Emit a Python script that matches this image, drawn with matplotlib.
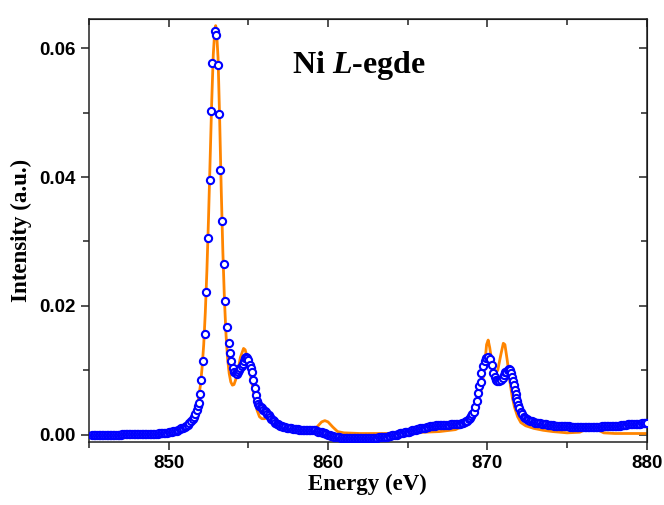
import matplotlib.pyplot as plt
from matplotlib.ticker import MultipleLocator

# experiment (blue circles)
exp_energy = [
    845.2, 845.3, 845.4, 845.5, 845.6, 845.7, 845.8, 845.9, 846.0, 846.1,
    846.2, 846.3, 846.4, 846.5, 846.6, 846.7, 846.8, 846.9, 847.0, 847.1,
    847.2, 847.3, 847.4, 847.5, 847.6, 847.7, 847.8, 847.9, 848.0, 848.1,
    848.2, 848.3, 848.4, 848.5, 848.6, 848.7, 848.8, 848.9, 849.0, 849.1,
    849.2, 849.3, 849.4, 849.5, 849.6, 849.7, 849.8, 849.9, 850.0, 850.1,
    850.2, 850.3, 850.4, 850.5, 850.6, 850.7, 850.8, 850.9, 851.0,
    851.1, 851.2, 851.3, 851.4, 851.5, 851.6, 851.68, 851.76, 851.83, 851.9,
    851.97, 852.05, 852.14, 852.28, 852.36, 852.47, 852.58, 852.66, 852.74, 852.89,
    852.99, 853.12, 853.16, 853.24, 853.37, 853.47, 853.55, 853.64, 853.77, 853.85,
    853.91, 854.02, 854.12, 854.2, 854.27, 854.34, 854.41, 854.5, 854.58, 854.66,
    854.73, 854.8, 854.87, 854.94, 855.0, 855.1, 855.17, 855.23, 855.31, 855.4,
    855.48, 855.56, 855.63, 855.69, 855.77, 855.85, 855.94, 856.02, 856.1, 856.18,
    856.27, 856.36, 856.45, 856.54, 856.62, 856.7, 856.78, 856.86, 856.94,
    857.0, 857.1, 857.2, 857.3, 857.4, 857.5, 857.6, 857.7, 857.8, 857.9,
    858.0, 858.1, 858.2, 858.3, 858.4, 858.5, 858.6, 858.7, 858.8, 858.9,
    859.0, 859.1, 859.2, 859.3, 859.4, 859.5, 859.6, 859.7, 859.8, 859.9,
    860.0, 860.1, 860.2, 860.3, 860.4, 860.5, 860.6, 860.7, 860.8, 860.9,
    861.0, 861.1, 861.2, 861.3, 861.4, 861.5, 861.6, 861.7, 861.8, 861.9,
    862.0, 862.1, 862.2, 862.3, 862.4, 862.5, 862.6, 862.7, 862.8, 862.9,
    863.0, 863.1, 863.2, 863.3, 863.4, 863.5, 863.6, 863.7, 863.8, 863.9,
    864.0, 864.1, 864.2, 864.3, 864.4, 864.5, 864.6, 864.7, 864.8, 864.9,
    865.0, 865.1, 865.2, 865.3, 865.4, 865.5, 865.6, 865.7, 865.8, 865.9,
    866.0, 866.1, 866.2, 866.3, 866.4, 866.5, 866.6, 866.7, 866.8, 866.9,
    867.0, 867.1, 867.2, 867.3, 867.4, 867.5, 867.6, 867.7, 867.8, 867.9,
    868.0, 868.1, 868.2, 868.3, 868.4,
    868.5, 868.58, 868.66, 868.74, 868.82, 868.9, 868.98, 869.06, 869.15, 869.23,
    869.32, 869.42, 869.5, 869.57, 869.63, 869.73, 869.84, 869.94, 870.04, 870.14,
    870.26, 870.36, 870.45, 870.53, 870.63, 870.73, 870.84, 870.95, 871.05, 871.13,
    871.2, 871.28, 871.36, 871.44, 871.51, 871.56, 871.61, 871.67, 871.72, 871.77,
    871.82, 871.87, 871.92, 872.0, 872.08, 872.18, 872.28, 872.38, 872.48, 872.58,
    872.66,
    872.8, 872.9, 873.0, 873.1, 873.2, 873.3, 873.4, 873.5, 873.6, 873.7,
    873.8, 873.9, 874.0, 874.1, 874.2, 874.3, 874.4, 874.5, 874.6, 874.7,
    874.8, 874.9, 875.0, 875.1, 875.2, 875.3, 875.4, 875.5, 875.6, 875.7,
    875.8, 875.9, 876.0, 876.1, 876.2, 876.3, 876.4, 876.5, 876.6, 876.7,
    876.8, 876.9, 877.0, 877.1, 877.2, 877.3, 877.4, 877.5, 877.6, 877.7,
    877.8, 877.9, 878.0, 878.1, 878.2, 878.3, 878.4, 878.5, 878.6, 878.7,
    878.8, 878.9, 879.0, 879.1, 879.2, 879.3, 879.4, 879.5, 879.6, 879.7,
    879.8, 879.9, 880.0,
]
exp_intensity = [
    0.0, 0.0, 0.0, 0.0, 0.0, 0.0, 0.0, 0.0, 0.0, 0.0,
    0.0, 0.0, 0.0, 0.0, 0.0, 0.0, 0.0, 0.0, 0.0, 0.00005,
    0.00005, 0.00005, 0.00005, 0.00005, 0.00005, 0.00005, 0.00005, 0.00005, 0.00005, 0.00005,
    0.00005, 0.00005, 0.00005, 0.00005, 0.0001, 0.0001, 0.0001, 0.00012, 0.00012, 0.00014,
    0.00016, 0.00018, 0.0002, 0.00022, 0.00025, 0.00028, 0.0003, 0.00035, 0.0004, 0.00045,
    0.0005, 0.00055, 0.0006, 0.00065, 0.0008, 0.0009, 0.0010, 0.0011, 0.0012,
    0.0013, 0.0015, 0.0018, 0.0021, 0.0024, 0.0028, 0.0033, 0.0039, 0.0044, 0.0050,
    0.0063, 0.0085, 0.0114, 0.0156, 0.0222, 0.0305, 0.0396, 0.0502, 0.0577, 0.0627,
    0.0620, 0.0574, 0.0498, 0.0411, 0.0332, 0.0265, 0.0208, 0.0167, 0.0143, 0.0127,
    0.0114, 0.0104, 0.0098, 0.0096, 0.0095, 0.0097, 0.0100, 0.0103, 0.0106, 0.0110,
    0.0115, 0.0119, 0.0121, 0.0119, 0.0116, 0.0109, 0.0104, 0.0098, 0.0085, 0.0072,
    0.0062, 0.0052, 0.0048, 0.0045, 0.0043, 0.0041, 0.0039, 0.0037, 0.0035, 0.0033,
    0.0030, 0.0028, 0.0025, 0.0023, 0.0021, 0.0019, 0.0017, 0.0016, 0.0015,
    0.0014, 0.0013, 0.0012, 0.0012, 0.0011, 0.0011, 0.0010, 0.0010, 0.0009, 0.0009,
    0.0009, 0.0009, 0.0008, 0.0008, 0.0008, 0.0008, 0.0008, 0.0008, 0.0008, 0.0008,
    0.0008, 0.0008, 0.0007, 0.0006, 0.0005, 0.0005, 0.0004, 0.0003, 0.0002, 0.0001,
    0.0000, -0.0001, -0.0002, -0.0002, -0.0003, -0.0003, -0.0004, -0.0004, -0.0005, -0.0005,
    -0.0005, -0.0005, -0.0005, -0.0005, -0.0005, -0.0005, -0.0005, -0.0005, -0.0005, -0.0005,
    -0.0005, -0.0005, -0.0005, -0.0005, -0.0005, -0.0005, -0.0005, -0.0005, -0.0005, -0.0005,
    -0.0005, -0.0005, -0.0004, -0.0004, -0.0004, -0.0004, -0.0003, -0.0003, -0.0002, -0.0002,
    -0.0001, -0.0001, 0.0000, 0.0000, 0.0001, 0.0002, 0.0003, 0.0003, 0.0004, 0.0004,
    0.0005, 0.0005, 0.0006, 0.0007, 0.0008, 0.0008, 0.0009, 0.0009, 0.0010, 0.0010,
    0.0011, 0.0011, 0.0012, 0.0012, 0.0013, 0.0013, 0.0014, 0.0014, 0.0015, 0.0015,
    0.0015, 0.0015, 0.0015, 0.0015, 0.0015, 0.0015, 0.0015, 0.0016, 0.0016, 0.0016,
    0.0016, 0.0016, 0.0017, 0.0017, 0.0018,
    0.0019, 0.0020, 0.0021, 0.0022, 0.0024, 0.0026, 0.0029, 0.0032, 0.0036, 0.0043,
    0.0052, 0.0065, 0.0075, 0.0082, 0.0096, 0.0106, 0.0114, 0.0119, 0.0121, 0.0117,
    0.0109, 0.0096, 0.0089, 0.0085, 0.0083, 0.0083, 0.0085, 0.0088, 0.0093, 0.0097,
    0.0098, 0.0101, 0.0102, 0.0100, 0.0096, 0.0090, 0.0083, 0.0077, 0.0070, 0.0063,
    0.0057, 0.0052, 0.0047, 0.0041, 0.0036, 0.0032, 0.0028, 0.0026, 0.0024, 0.0023,
    0.0022,
    0.0021, 0.0020, 0.0019, 0.0019, 0.0018, 0.0018, 0.0017, 0.0017, 0.0016, 0.0016,
    0.0015, 0.0015, 0.0015, 0.0015, 0.0014, 0.0014, 0.0014, 0.0014, 0.0013, 0.0013,
    0.0013, 0.0013, 0.0013, 0.0013, 0.0012, 0.0012, 0.0012, 0.0012, 0.0012, 0.0012,
    0.0012, 0.0012, 0.0012, 0.0012, 0.0012, 0.0012, 0.0012, 0.0012, 0.0012, 0.0012,
    0.0012, 0.0012, 0.0012, 0.0012, 0.0013, 0.0013, 0.0013, 0.0013, 0.0013, 0.0013,
    0.0013, 0.0013, 0.0014, 0.0014, 0.0014, 0.0014, 0.0015, 0.0015, 0.0015, 0.0015,
    0.0016, 0.0016, 0.0016, 0.0016, 0.0017, 0.0017, 0.0017, 0.0017, 0.0017, 0.0018,
    0.0018, 0.0018, 0.0018,
]

# calculation (orange line)
calc_energy = [
    845.0, 846.0, 847.0, 848.0, 849.0, 849.5, 850.0, 850.5, 851.0, 851.3,
    851.5, 851.7, 851.85, 852.0, 852.1, 852.2, 852.3, 852.4, 852.5, 852.6,
    852.7, 852.8, 852.9, 852.95, 853.0, 853.1, 853.2, 853.3, 853.4, 853.5,
    853.6, 853.7, 853.8, 853.9, 854.0, 854.1, 854.2, 854.35, 854.5, 854.7,
    854.8, 854.95, 855.1, 855.25, 855.4, 855.55, 855.7, 855.85, 856.0, 856.2,
    856.4, 856.6, 856.8, 857.0, 857.5, 858.0, 858.5, 859.0, 859.3, 859.6,
    859.8, 860.0, 860.3, 860.6, 861.0, 862.0, 863.0, 864.0, 865.0, 866.0,
    867.0, 868.0, 868.5, 869.0, 869.3, 869.6, 869.8, 869.95, 870.05, 870.15,
    870.3, 870.5, 870.65, 870.85, 871.0, 871.1, 871.25, 871.4, 871.55, 871.7,
    871.9, 872.1, 872.4, 872.9, 873.5, 874.1, 875.0, 875.8, 876.3, 876.6,
    876.9, 877.3, 878.0, 879.0, 880.0,
]
calc_intensity = [
    0.0000, 0.00005, 0.0001, 0.00015, 0.0003, 0.0004, 0.0006, 0.0009, 0.0014, 0.0020,
    0.0027, 0.0038, 0.0052, 0.0078, 0.0105, 0.0140, 0.0190, 0.0255, 0.0335, 0.0425,
    0.0515, 0.0590, 0.0630, 0.0635, 0.0628, 0.0585, 0.0490, 0.0380, 0.0285, 0.0210,
    0.0155, 0.0118, 0.0095, 0.0082, 0.0077, 0.0078, 0.0085, 0.0100, 0.0120, 0.0134,
    0.0132, 0.0118, 0.0098, 0.0077, 0.0055, 0.0038, 0.0028, 0.0025, 0.0025, 0.0026,
    0.0025, 0.0020, 0.0016, 0.0013, 0.0009, 0.0008, 0.0007, 0.0008, 0.0012, 0.0020,
    0.0022, 0.0020, 0.0012, 0.0005, 0.0003, 0.0002, 0.0002, 0.0002, 0.0003, 0.0004,
    0.0005, 0.0008, 0.0014, 0.0028, 0.0045, 0.0068, 0.0100, 0.0140, 0.0147, 0.0135,
    0.0110, 0.0096, 0.0100, 0.0125, 0.0142, 0.0140, 0.0115, 0.0085, 0.0060, 0.0043,
    0.0028, 0.0019, 0.0014, 0.0010, 0.0007, 0.0005, 0.0003, 0.0004, 0.0010, 0.0012,
    0.0008, 0.0003, 0.0002, 0.0002, 0.0002,
]

plt.rcParams['mathtext.fontset'] = 'custom'
plt.rcParams['mathtext.rm'] = 'Liberation Serif:bold'
plt.rcParams['mathtext.it'] = 'Liberation Serif:bold:italic'

fig = plt.figure(figsize=(6.64, 5.05), dpi=100)
ax = fig.add_axes([0.134, 0.125, 0.840, 0.837])

ax.plot(calc_energy, calc_intensity, color='#FF8500', linewidth=2.0, zorder=2)
ax.plot(exp_energy, exp_intensity, linestyle='none', marker='o', markersize=5.2,
        markerfacecolor='white', markeredgecolor='#0000FF', markeredgewidth=1.5, zorder=3)

ax.set_xlim(845, 880)
ax.set_ylim(-0.0011, 0.0645)
ax.xaxis.set_major_locator(MultipleLocator(10))
ax.xaxis.set_minor_locator(MultipleLocator(5))
ax.yaxis.set_major_locator(MultipleLocator(0.02))
ax.yaxis.set_minor_locator(MultipleLocator(0.01))
ax.yaxis.set_major_formatter(plt.FormatStrFormatter('%.2f'))

ax.tick_params(which='major', direction='out', length=6, width=1.1, colors='#222222')
ax.tick_params(which='minor', direction='out', length=4, width=1.1, colors='#222222')
for lab in ax.get_xticklabels() + ax.get_yticklabels():
    lab.set_fontfamily('Liberation Sans')
    lab.set_fontweight('bold')
    lab.set_fontsize(13.5)
    lab.set_color('black')

for s in ax.spines.values():
    s.set_linewidth(1.1)
    s.set_color('#222222')

top = ax.secondary_xaxis('top')
top.xaxis.set_major_locator(MultipleLocator(10))
top.xaxis.set_minor_locator(MultipleLocator(5))
top.tick_params(which='both', direction='in', labeltop=False, width=1.1, colors='#222222')
top.tick_params(which='major', length=6)
top.tick_params(which='minor', length=4)
right = ax.secondary_yaxis('right')
right.yaxis.set_major_locator(MultipleLocator(0.02))
right.yaxis.set_minor_locator(MultipleLocator(0.01))
right.tick_params(which='both', direction='in', labelright=False, width=1.1, colors='#222222')
right.tick_params(which='major', length=6)
right.tick_params(which='minor', length=4)

ax.set_xlabel('Energy (eV)', fontfamily='Liberation Serif', fontweight='bold', fontsize=16.5, labelpad=1)
ax.set_ylabel('Intensity (a.u.)', fontfamily='Liberation Serif', fontweight='bold', fontsize=16.5, labelpad=5)

ax.text(0.483, 0.89, r'Ni $\mathit{L}$-egde', transform=ax.transAxes, ha='center', va='center',
        fontfamily='Liberation Serif', fontweight='bold', fontsize=23)

fig.savefig('out.png', dpi=100)
